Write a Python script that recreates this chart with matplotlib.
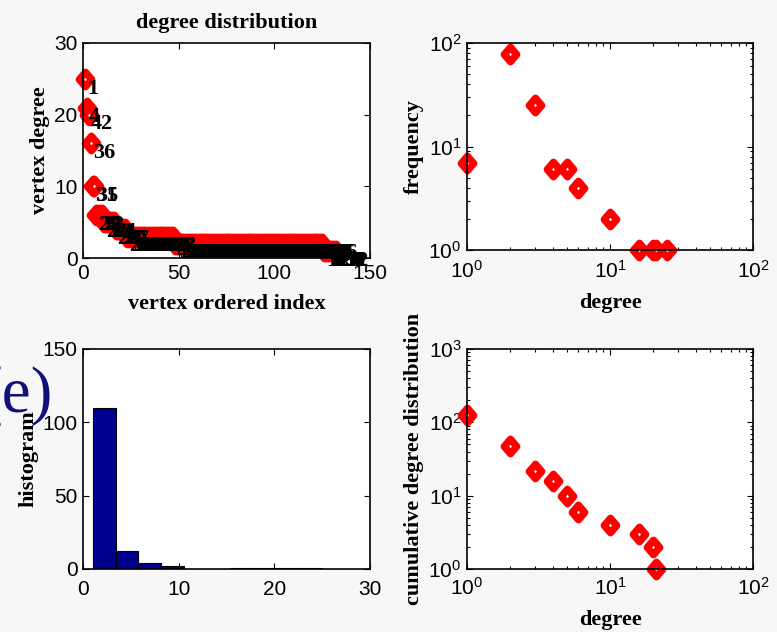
import numpy as np
import matplotlib
matplotlib.use("Agg")
import matplotlib.pyplot as plt
from matplotlib.markers import MarkerStyle
from matplotlib.path import Path
from matplotlib.ticker import LogLocator, NullFormatter

# ---------------- data ----------------
deg_values = [25, 21, 20, 16, 10, 6, 5, 4, 3, 2, 1]
deg_counts = [1, 1, 1, 1, 2, 4, 6, 6, 25, 78, 7]

vertex_ids = [1, 4, 42, 36, 31, 35,
              29, 30, 12, 9,
              21, 17, 13, 22, 14, 8,
              27, 33, 7, 11, 24, 37,
              2, 3, 5, 6, 10, 15, 16, 18, 19, 23, 25, 26, 28, 32, 34, 38, 39,
              40, 41, 43, 44, 45, 46, 47, 48,
              49, 50, 51, 52, 53, 54, 55, 56, 57, 58, 59, 60, 61, 62, 63, 64,
              65, 66, 67, 68, 69, 70, 71, 72, 73, 74, 75, 76, 77, 78, 79, 80,
              81, 82, 83, 84, 85, 86, 87, 88, 89, 90, 91, 92, 93, 94, 95, 96,
              97, 98, 99, 100, 101, 102, 103, 104, 105, 106, 107, 108, 109,
              110, 111, 112, 113, 114, 115, 116, 117, 118, 119, 120, 121, 122,
              123, 124, 125, 126,
              127, 128, 129, 130, 131, 132, 20]

freq_degree = [1, 2, 3, 4, 5, 6, 10, 16, 20, 21, 25]
freq_count = [7, 78, 25, 6, 6, 4, 2, 1, 1, 1, 1]

hist_edges = [1, 3.4, 5.8, 8.2, 10.6, 13, 15.4, 17.8, 20.2, 22.6, 25]
hist_counts = [110, 12, 4, 2, 0, 0, 1, 1, 1, 1]

cum_degree = [1, 2, 3, 4, 5, 6, 10, 16, 20, 21]
cum_count = [125, 47, 22, 16, 10, 6, 4, 3, 2, 1]

# ---------------- style ----------------
W, H = 777, 632
BG = "#f7f7f7"
plt.rcParams["font.family"] = ["Liberation Sans", "DejaVu Sans"]
plt.rcParams["mathtext.fontset"] = "custom"
plt.rcParams["mathtext.rm"] = "Liberation Sans"
plt.rcParams["mathtext.it"] = "Liberation Sans"
plt.rcParams["mathtext.bf"] = "Liberation Sans"
TICK_FS = 15
LAB_FS = 16
SERIF = ["Liberation Serif", "DejaVu Serif"]

fig = plt.figure(figsize=(W / 100, H / 100), dpi=100, facecolor=BG)


def add_ax(left, right, top, bottom):
    return fig.add_axes([left / W, 1 - bottom / H, (right - left) / W, (bottom - top) / H])


def style(ax, xpad=4):
    ax.set_facecolor("white")
    for s in ax.spines.values():
        s.set_linewidth(1.2)
        s.set_color("black")
    ax.tick_params(which="both", direction="in", top=True, right=True,
                   labelsize=TICK_FS, width=0.8)
    ax.tick_params(which="major", length=4, pad=4)
    ax.tick_params(which="minor", length=2)
    ax.tick_params(axis="x", which="major", pad=xpad)


verts = [(0, 1), (0.86, 0), (0, -1), (-0.86, 0), (0, 1)]
diamond = MarkerStyle(Path(verts, [Path.MOVETO, Path.LINETO, Path.LINETO, Path.LINETO, Path.CLOSEPOLY]),
                      joinstyle="round")
MK = dict(linestyle="none", marker=diamond, markersize=10.5, markerfacecolor="white",
          markeredgecolor="red", markeredgewidth=5.2, clip_on=False)

# ---- top-left: sorted degree sequence ----
ax1 = add_ax(83, 370, 43, 258)
style(ax1, xpad=4)
degrees_sorted = np.repeat(deg_values, deg_counts)
index = np.arange(1, len(degrees_sorted) + 1)
ax1.plot(index, degrees_sorted, **MK)
for i, d, v in zip(index, degrees_sorted, vertex_ids):
    ax1.annotate(str(v), (i, d), xytext=(1.5, -7), textcoords="offset points",
                 ha="left", va="center", fontsize=LAB_FS, fontweight="bold",
                 family=SERIF, color="black", annotation_clip=False)
ax1.set_xlim(0, 150)
ax1.set_ylim(0, 30)
ax1.set_xticks([0, 50, 100, 150])
ax1.set_yticks([0, 10, 20, 30])
ax1.set_title("degree distribution", fontsize=LAB_FS, fontweight="bold", family=SERIF, pad=11)
ax1.set_xlabel("vertex ordered index", fontsize=LAB_FS, fontweight="bold", family=SERIF, labelpad=8)
ax1.set_ylabel("vertex degree", fontsize=LAB_FS, fontweight="bold", family=SERIF, labelpad=3)

# ---- top-right: frequency (log-log) ----
ax2 = add_ax(467, 753, 43, 250)
style(ax2, xpad=7)
ax2.set_xscale("log")
ax2.set_yscale("log")
ax2.plot(freq_degree, freq_count, **MK)
ax2.set_xlim(1, 100)
ax2.set_ylim(1, 100)
ax2.xaxis.set_major_locator(LogLocator(base=10, numticks=10))
ax2.yaxis.set_major_locator(LogLocator(base=10, numticks=10))
ax2.xaxis.set_minor_formatter(NullFormatter())
ax2.yaxis.set_minor_formatter(NullFormatter())
ax2.set_xlabel("degree", fontsize=LAB_FS, fontweight="bold", family=SERIF, labelpad=8)
ax2.set_ylabel("frequency", fontsize=LAB_FS, fontweight="bold", family=SERIF, labelpad=3)

# ---- bottom-left: histogram ----
ax3 = add_ax(83, 370, 349, 569)
style(ax3, xpad=8)
edges = np.array(hist_edges)
ax3.bar(edges[:-1], hist_counts, width=np.diff(edges), align="edge",
        color="#00008f", edgecolor="black", linewidth=0.8)
ax3.set_xlim(0, 30)
ax3.set_ylim(0, 150)
ax3.set_xticks([0, 10, 20, 30])
ax3.set_yticks([0, 50, 100, 150])
ax3.set_ylabel("histogram", fontsize=LAB_FS, fontweight="bold", family=SERIF, labelpad=3)

# ---- bottom-right: cumulative (log-log) ----
ax4 = add_ax(467, 753, 349, 569)
style(ax4, xpad=6)
ax4.set_xscale("log")
ax4.set_yscale("log")
ax4.plot(cum_degree, cum_count, **MK)
ax4.set_xlim(1, 100)
ax4.set_ylim(1, 1000)
ax4.xaxis.set_major_locator(LogLocator(base=10, numticks=10))
ax4.yaxis.set_major_locator(LogLocator(base=10, numticks=10))
ax4.xaxis.set_minor_formatter(NullFormatter())
ax4.yaxis.set_minor_formatter(NullFormatter())
ax4.set_xlabel("degree", fontsize=LAB_FS, fontweight="bold", family=SERIF, labelpad=8)
ax4.set_ylabel("cumulative degree distribution", fontsize=LAB_FS, fontweight="bold",
               family=SERIF, labelpad=3)

# ---- slide label "(e)" partially cut on the left ----
fig.text(53 / W, 1 - 412 / H, "(e)", fontsize=47, family=SERIF, color="#10107a",
         ha="right", va="baseline", zorder=0)

fig.savefig("out.png", dpi=100, facecolor=BG)
